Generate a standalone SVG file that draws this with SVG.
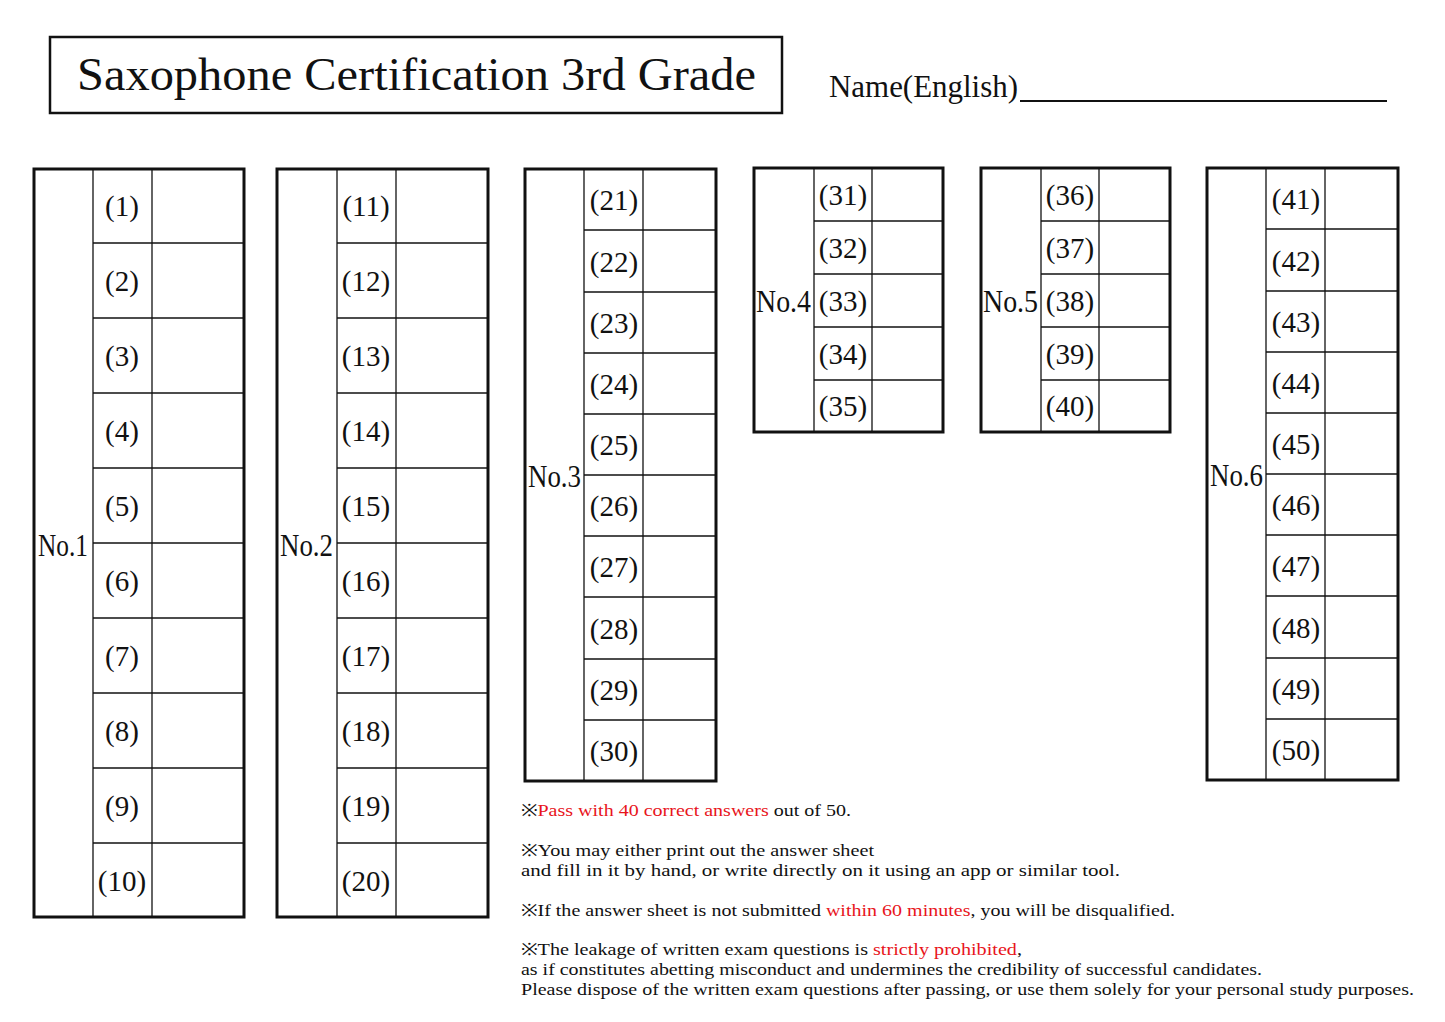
<svg xmlns="http://www.w3.org/2000/svg" width="1445" height="1022" viewBox="0 0 1445 1022">
<style>
text{font-family:"Noto Sans CJK JP","DejaVu Sans",sans-serif;fill:#111}
.o{fill:none;stroke:#111;stroke-width:3}
.l{stroke:#111;stroke-width:1.3}
.n{font-size:29px;text-anchor:middle;font-family:"Liberation Serif",serif}
.g{font-size:32px;font-family:"Liberation Serif",serif}
.t{font-size:17px;font-family:"Liberation Serif",serif}
.r{fill:#e8141b}
</style>
<rect width="1445" height="1022" fill="#fff"/>
<g id="title"><rect x="50" y="37" width="732" height="76" fill="none" stroke="#111" stroke-width="2.5"/>
<text x="77" y="90" font-size="46" textLength="679" lengthAdjust="spacingAndGlyphs" style="font-family:'Liberation Serif',serif">Saxophone Certification 3rd Grade</text></g>
<g id="name"><text x="829" y="97" font-size="32" textLength="189" lengthAdjust="spacingAndGlyphs" style="font-family:'Liberation Serif',serif">Name(English)</text>
<line x1="1020" y1="101" x2="1387" y2="101" stroke="#111" stroke-width="2"/></g>
<g id="no1"><rect class="o" x="34" y="169" width="210" height="748"/><line class="l" x1="93" y1="169" x2="93" y2="917"/><line class="l" x1="152" y1="169" x2="152" y2="917"/>
<line class="l" x1="93" y1="243" x2="244" y2="243"/><line class="l" x1="93" y1="318" x2="244" y2="318"/><line class="l" x1="93" y1="393" x2="244" y2="393"/><line class="l" x1="93" y1="468" x2="244" y2="468"/><line class="l" x1="93" y1="543" x2="244" y2="543"/><line class="l" x1="93" y1="618" x2="244" y2="618"/><line class="l" x1="93" y1="693" x2="244" y2="693"/><line class="l" x1="93" y1="768" x2="244" y2="768"/><line class="l" x1="93" y1="843" x2="244" y2="843"/>
<text class="g" x="38" y="556" textLength="50" lengthAdjust="spacingAndGlyphs">No.1</text>
<text class="n" x="122" y="216">(1)</text><text class="n" x="122" y="291">(2)</text><text class="n" x="122" y="366">(3)</text><text class="n" x="122" y="441">(4)</text><text class="n" x="122" y="516">(5)</text><text class="n" x="122" y="591">(6)</text><text class="n" x="122" y="666">(7)</text><text class="n" x="122" y="741">(8)</text><text class="n" x="122" y="816">(9)</text><text class="n" x="122" y="891">(10)</text></g>
<g id="no2"><rect class="o" x="277" y="169" width="211" height="748"/><line class="l" x1="337" y1="169" x2="337" y2="917"/><line class="l" x1="396" y1="169" x2="396" y2="917"/>
<line class="l" x1="337" y1="243" x2="488" y2="243"/><line class="l" x1="337" y1="318" x2="488" y2="318"/><line class="l" x1="337" y1="393" x2="488" y2="393"/><line class="l" x1="337" y1="468" x2="488" y2="468"/><line class="l" x1="337" y1="543" x2="488" y2="543"/><line class="l" x1="337" y1="618" x2="488" y2="618"/><line class="l" x1="337" y1="693" x2="488" y2="693"/><line class="l" x1="337" y1="768" x2="488" y2="768"/><line class="l" x1="337" y1="843" x2="488" y2="843"/>
<text class="g" x="280" y="556" textLength="53" lengthAdjust="spacingAndGlyphs">No.2</text>
<text class="n" x="366" y="216">(11)</text><text class="n" x="366" y="291">(12)</text><text class="n" x="366" y="366">(13)</text><text class="n" x="366" y="441">(14)</text><text class="n" x="366" y="516">(15)</text><text class="n" x="366" y="591">(16)</text><text class="n" x="366" y="666">(17)</text><text class="n" x="366" y="741">(18)</text><text class="n" x="366" y="816">(19)</text><text class="n" x="366" y="891">(20)</text></g>
<g id="no3"><rect class="o" x="525" y="169" width="191" height="612"/><line class="l" x1="584" y1="169" x2="584" y2="781"/><line class="l" x1="643" y1="169" x2="643" y2="781"/>
<line class="l" x1="584" y1="230" x2="716" y2="230"/><line class="l" x1="584" y1="292" x2="716" y2="292"/><line class="l" x1="584" y1="353" x2="716" y2="353"/><line class="l" x1="584" y1="414" x2="716" y2="414"/><line class="l" x1="584" y1="475" x2="716" y2="475"/><line class="l" x1="584" y1="536" x2="716" y2="536"/><line class="l" x1="584" y1="597" x2="716" y2="597"/><line class="l" x1="584" y1="659" x2="716" y2="659"/><line class="l" x1="584" y1="720" x2="716" y2="720"/>
<text class="g" x="528" y="487" textLength="53" lengthAdjust="spacingAndGlyphs">No.3</text>
<text class="n" x="614" y="210">(21)</text><text class="n" x="614" y="272">(22)</text><text class="n" x="614" y="333">(23)</text><text class="n" x="614" y="394">(24)</text><text class="n" x="614" y="455">(25)</text><text class="n" x="614" y="516">(26)</text><text class="n" x="614" y="577">(27)</text><text class="n" x="614" y="639">(28)</text><text class="n" x="614" y="700">(29)</text><text class="n" x="614" y="761">(30)</text></g>
<g id="no4"><rect class="o" x="754" y="168" width="189" height="264"/><line class="l" x1="814" y1="168" x2="814" y2="432"/><line class="l" x1="872" y1="168" x2="872" y2="432"/>
<line class="l" x1="814" y1="221" x2="943" y2="221"/><line class="l" x1="814" y1="274" x2="943" y2="274"/><line class="l" x1="814" y1="327" x2="943" y2="327"/><line class="l" x1="814" y1="380" x2="943" y2="380"/>
<text class="g" x="756" y="312" textLength="55" lengthAdjust="spacingAndGlyphs">No.4</text>
<text class="n" x="843" y="205">(31)</text><text class="n" x="843" y="258">(32)</text><text class="n" x="843" y="311">(33)</text><text class="n" x="843" y="364">(34)</text><text class="n" x="843" y="416">(35)</text></g>
<g id="no5"><rect class="o" x="981" y="168" width="189" height="264"/><line class="l" x1="1041" y1="168" x2="1041" y2="432"/><line class="l" x1="1099" y1="168" x2="1099" y2="432"/>
<line class="l" x1="1041" y1="221" x2="1170" y2="221"/><line class="l" x1="1041" y1="274" x2="1170" y2="274"/><line class="l" x1="1041" y1="327" x2="1170" y2="327"/><line class="l" x1="1041" y1="380" x2="1170" y2="380"/>
<text class="g" x="983" y="312" textLength="55" lengthAdjust="spacingAndGlyphs">No.5</text>
<text class="n" x="1070" y="205">(36)</text><text class="n" x="1070" y="258">(37)</text><text class="n" x="1070" y="311">(38)</text><text class="n" x="1070" y="364">(39)</text><text class="n" x="1070" y="416">(40)</text></g>
<g id="no6"><rect class="o" x="1207" y="168" width="191" height="612"/><line class="l" x1="1266" y1="168" x2="1266" y2="780"/><line class="l" x1="1325" y1="168" x2="1325" y2="780"/>
<line class="l" x1="1266" y1="229" x2="1398" y2="229"/><line class="l" x1="1266" y1="291" x2="1398" y2="291"/><line class="l" x1="1266" y1="352" x2="1398" y2="352"/><line class="l" x1="1266" y1="413" x2="1398" y2="413"/><line class="l" x1="1266" y1="474" x2="1398" y2="474"/><line class="l" x1="1266" y1="535" x2="1398" y2="535"/><line class="l" x1="1266" y1="596" x2="1398" y2="596"/><line class="l" x1="1266" y1="658" x2="1398" y2="658"/><line class="l" x1="1266" y1="719" x2="1398" y2="719"/>
<text class="g" x="1210" y="486" textLength="53" lengthAdjust="spacingAndGlyphs">No.6</text>
<text class="n" x="1296" y="209">(41)</text><text class="n" x="1296" y="271">(42)</text><text class="n" x="1296" y="332">(43)</text><text class="n" x="1296" y="393">(44)</text><text class="n" x="1296" y="454">(45)</text><text class="n" x="1296" y="515">(46)</text><text class="n" x="1296" y="576">(47)</text><text class="n" x="1296" y="638">(48)</text><text class="n" x="1296" y="699">(49)</text><text class="n" x="1296" y="760">(50)</text></g>
<g id="notes">
<text class="t" x="521" y="816" textLength="330" lengthAdjust="spacingAndGlyphs">※<tspan class="r">Pass with 40 correct answers</tspan> out of 50.</text>
<text class="t" x="521" y="856" textLength="353" lengthAdjust="spacingAndGlyphs">※You may either print out the answer sheet</text>
<text class="t" x="521" y="876" textLength="599" lengthAdjust="spacingAndGlyphs">and fill in it by hand, or write directly on it using an app or similar tool.</text>
<text class="t" x="521" y="916" textLength="654" lengthAdjust="spacingAndGlyphs">※If the answer sheet is not submitted <tspan class="r">within 60 minutes</tspan>, you will be disqualified.</text>
<text class="t" x="521" y="955" textLength="501" lengthAdjust="spacingAndGlyphs">※The leakage of written exam questions is <tspan class="r">strictly prohibited</tspan>,</text>
<text class="t" x="521" y="975" textLength="741" lengthAdjust="spacingAndGlyphs">as if constitutes abetting misconduct and undermines the credibility of successful candidates.</text>
<text class="t" x="521" y="995" textLength="893" lengthAdjust="spacingAndGlyphs">Please dispose of the written exam questions after passing, or use them solely for your personal study purposes.</text>
</g>
</svg>
